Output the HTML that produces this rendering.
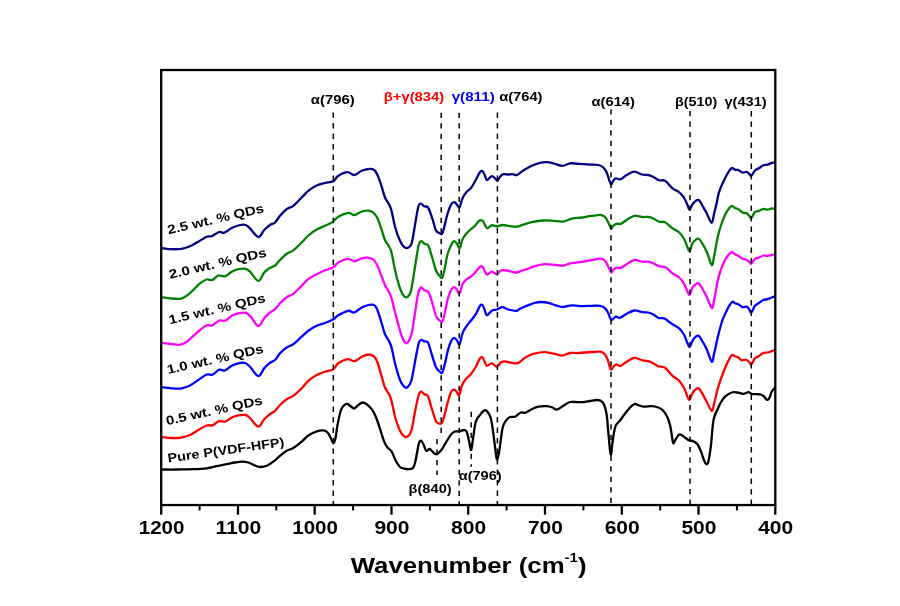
<!DOCTYPE html>
<html lang="en"><head><meta charset="utf-8"><title>FTIR spectra</title>
<style>
html,body{margin:0;padding:0;background:#fff}
body{width:900px;height:606px;overflow:hidden}
svg{display:block}
text{font-family:"Liberation Sans",sans-serif;font-weight:bold}
.c{fill:none;stroke-width:2.3;stroke-linejoin:round;stroke-linecap:round}
.d{stroke:#000;stroke-width:1.5;stroke-dasharray:5.3 5.2;fill:none}
.ann{font-size:13.3px}
.lbl{font-size:12.7px}
.tk{font-size:17.8px}
</style></head><body>
<svg width="900" height="606" viewBox="0 0 900 606">
<rect width="900" height="606" fill="#fff"/>
<path class="c" stroke="#000000" d="M161.7 469.5C164.2 469.5 171.4 469.6 176.7 469.5C182.0 469.4 188.3 469.4 193.3 469.2C198.3 469.0 202.8 468.8 206.7 468.3C210.6 467.8 213.4 466.9 216.7 466.2C220.0 465.5 223.6 464.8 226.7 464.2C229.8 463.6 232.5 462.9 235.0 462.5C237.5 462.1 239.5 461.7 241.7 461.7C243.9 461.7 246.1 461.9 248.3 462.5C250.5 463.1 253.1 464.8 255.0 465.5C256.9 466.2 258.1 466.9 260.0 467.0C261.9 467.1 264.5 466.7 266.7 465.8C268.9 464.9 271.1 463.4 273.3 461.7C275.5 460.0 277.8 457.6 280.0 455.8C282.2 454.0 284.5 452.1 286.7 450.8C288.9 449.5 290.8 449.5 293.3 448.0C295.8 446.5 299.2 443.8 301.7 441.7C304.2 439.6 305.8 437.2 308.3 435.5C310.8 433.8 314.2 432.2 316.7 431.3C319.2 430.4 321.5 430.2 323.3 430.4C325.1 430.6 326.2 431.2 327.5 432.5C328.8 433.8 329.8 436.2 330.8 438.0C331.8 439.8 332.5 443.2 333.3 443.3C334.1 443.4 334.8 441.4 335.5 438.3C336.2 435.2 336.6 429.6 337.5 425.0C338.4 420.4 339.7 413.8 340.8 410.5C341.9 407.2 343.1 406.3 344.2 405.2C345.3 404.1 346.4 403.8 347.5 404.0C348.6 404.2 349.7 405.6 350.8 406.3C351.9 407.1 352.9 408.7 354.2 408.5C355.4 408.3 356.9 406.0 358.3 405.0C359.7 404.0 361.1 402.6 362.5 402.5C363.9 402.4 365.2 403.1 366.7 404.2C368.2 405.3 370.2 407.1 371.7 409.2C373.2 411.3 374.4 413.4 375.8 416.7C377.2 420.0 378.6 424.6 380.0 428.8C381.4 433.0 382.9 438.6 384.2 441.7C385.4 444.8 386.2 445.8 387.5 447.5C388.8 449.2 390.3 449.5 391.7 451.7C393.1 453.9 394.4 458.2 395.8 460.8C397.2 463.4 398.6 465.7 400.0 467.0C401.4 468.3 402.7 468.3 404.2 468.7C405.7 469.1 407.7 469.3 409.2 469.2C410.7 469.1 412.0 469.2 413.0 468.0C414.0 466.8 414.6 464.7 415.3 461.7C416.1 458.7 416.9 453.2 417.5 450.0C418.1 446.8 418.6 444.0 419.2 442.5C419.8 441.0 420.6 440.4 421.3 440.8C422.1 441.2 422.9 443.3 423.7 445.0C424.5 446.7 425.3 450.2 426.3 450.8C427.3 451.4 428.7 448.7 429.7 448.8C430.7 448.9 431.3 450.8 432.5 451.7C433.7 452.6 435.2 454.6 436.7 454.2C438.2 453.8 440.3 451.2 441.7 449.5C443.1 447.8 443.6 446.5 445.0 444.2C446.4 441.9 448.5 437.9 450.0 435.8C451.5 433.7 452.7 432.4 454.2 431.7C455.7 430.9 457.5 431.6 459.2 431.3C460.9 431.0 462.9 429.9 464.2 430.0C465.4 430.1 465.9 429.8 466.7 431.7C467.5 433.6 468.4 438.6 469.2 441.7C469.9 444.8 470.5 450.8 471.2 450.0C471.9 449.2 472.5 441.4 473.3 436.7C474.1 432.0 474.7 425.3 475.8 421.7C476.9 418.1 478.6 416.9 480.0 415.0C481.4 413.1 482.9 411.1 484.2 410.5C485.4 409.9 486.4 410.4 487.5 411.7C488.6 413.0 489.8 414.7 490.8 418.3C491.8 421.9 492.5 427.5 493.3 433.3C494.1 439.1 495.2 449.0 495.8 453.3C496.4 457.6 496.6 459.5 497.2 459.2C497.8 458.9 498.3 456.8 499.2 451.7C500.1 446.6 501.4 433.4 502.5 428.3C503.6 423.2 504.6 422.7 505.8 420.8C507.1 418.9 508.5 417.7 510.0 417.0C511.5 416.3 513.2 417.4 515.0 416.7C516.8 415.9 519.1 413.1 520.8 412.5C522.5 411.9 523.2 413.4 525.0 412.8C526.8 412.2 529.5 410.2 531.7 409.2C533.9 408.2 535.8 407.2 538.3 406.7C540.8 406.2 544.3 406.1 546.7 406.2C549.1 406.3 550.8 406.9 552.5 407.5C554.2 408.1 554.9 410.0 556.7 409.7C558.5 409.4 561.1 407.1 563.3 405.8C565.5 404.5 567.5 402.6 570.0 402.0C572.5 401.4 575.8 402.2 578.3 402.2C580.8 402.2 583.0 402.2 585.0 402.0C587.0 401.8 588.0 401.3 590.0 401.0C592.0 400.7 594.9 400.0 596.7 400.0C598.5 400.0 599.5 400.0 600.8 400.8C602.0 401.6 603.2 402.6 604.2 405.0C605.2 407.4 606.0 409.7 606.7 415.0C607.5 420.3 608.0 430.0 608.7 436.7C609.4 443.4 610.1 454.4 610.8 455.0C611.5 455.6 612.0 444.7 612.8 440.0C613.5 435.3 614.5 429.5 615.3 426.7C616.1 423.9 616.6 424.5 617.5 423.3C618.4 422.1 619.4 421.3 620.8 419.5C622.2 417.7 624.0 414.8 625.8 412.5C627.6 410.2 630.2 407.2 631.7 405.8C633.2 404.4 633.8 403.9 635.0 403.8C636.2 403.8 637.7 405.0 639.2 405.5C640.7 406.0 642.1 406.6 644.2 406.7C646.3 406.8 649.4 406.1 651.7 406.2C654.1 406.3 656.5 406.9 658.3 407.5C660.1 408.1 661.1 408.6 662.5 410.0C663.9 411.4 665.5 413.3 666.7 415.8C668.0 418.3 669.1 421.5 670.0 425.0C670.9 428.5 671.5 433.6 672.0 436.7C672.5 439.8 672.7 442.9 673.3 443.3C673.9 443.7 674.8 440.7 675.8 439.2C676.8 437.7 678.0 435.0 679.2 434.5C680.5 434.0 681.8 435.3 683.3 436.2C684.8 437.1 686.6 439.1 688.3 440.0C690.0 440.9 691.8 440.6 693.3 441.3C694.8 442.0 696.2 442.6 697.5 444.2C698.8 445.8 699.7 448.0 700.8 450.8C701.9 453.6 703.3 458.6 704.2 460.8C705.1 463.0 705.5 464.1 706.2 464.2C706.9 464.3 707.5 464.6 708.3 461.7C709.1 458.8 710.0 453.1 710.8 446.7C711.6 440.3 712.3 428.6 713.0 423.3C713.7 418.0 714.2 417.3 715.0 415.0C715.8 412.7 716.7 411.3 717.5 409.5C718.3 407.7 718.8 406.1 720.0 404.0C721.2 401.9 723.0 398.6 725.0 396.7C727.0 394.8 729.6 393.2 731.7 392.5C733.8 391.8 735.6 392.3 737.5 392.5C739.4 392.7 741.5 393.9 743.3 393.8C745.1 393.8 746.9 392.2 748.3 392.2C749.7 392.2 750.3 393.5 751.7 393.8C753.1 394.1 755.2 394.1 756.7 394.2C758.2 394.3 759.5 394.1 760.8 394.5C762.0 394.9 763.2 395.8 764.2 396.7C765.2 397.6 765.9 399.4 766.7 399.7C767.5 400.0 768.4 399.6 769.2 398.3C770.0 397.0 770.8 393.4 771.7 391.7C772.6 390.0 774.2 388.6 774.7 388.0"/>
<path class="c" stroke="#ff0000" d="M161.7 437.2C163.4 437.3 168.4 437.9 171.7 438.0C175.0 438.1 178.6 438.0 181.7 437.5C184.8 437.0 187.2 436.2 190.0 435.0C192.8 433.8 195.5 431.6 198.3 430.0C201.1 428.4 204.3 426.3 206.7 425.5C209.1 424.7 210.4 426.0 212.5 425.3C214.6 424.6 217.1 421.8 219.2 421.2C221.3 420.6 222.9 422.3 225.0 421.7C227.1 421.1 229.5 418.6 231.7 417.5C233.9 416.4 236.0 415.7 238.3 415.3C240.7 414.9 243.9 414.6 245.8 415.0C247.8 415.4 247.9 416.1 250.0 418.0C252.1 419.9 255.9 426.5 258.3 426.7C260.7 426.9 262.2 421.3 264.2 419.2C266.1 417.1 268.2 415.6 270.0 414.2C271.8 412.8 273.3 412.3 275.0 410.8C276.7 409.3 278.1 406.9 280.0 405.0C281.9 403.1 284.5 400.7 286.7 399.2C288.9 397.7 290.8 397.6 293.3 395.8C295.8 394.0 299.2 390.8 301.7 388.3C304.2 385.8 305.8 383.0 308.3 380.8C310.8 378.6 313.9 376.5 316.7 375.0C319.5 373.5 322.2 372.7 325.0 371.7C327.8 370.7 331.1 370.6 333.3 369.2C335.5 367.8 335.9 365.0 338.3 363.3C340.7 361.6 344.8 359.6 347.5 359.2C350.2 358.8 352.3 361.6 354.7 361.2C357.1 360.8 359.3 357.8 361.7 356.7C364.1 355.6 367.1 354.5 369.2 354.5C371.3 354.5 372.8 355.4 374.2 356.7C375.6 358.0 376.2 359.2 377.5 362.5C378.8 365.8 380.4 372.5 381.7 376.7C382.9 380.9 383.5 383.9 385.0 387.5C386.5 391.1 389.1 393.4 390.8 398.3C392.5 403.2 393.5 411.3 395.0 416.7C396.5 422.1 398.5 427.5 400.0 430.8C401.5 434.1 402.9 435.3 404.2 436.3C405.4 437.3 406.3 437.6 407.5 436.7C408.7 435.8 410.1 435.0 411.3 430.8C412.6 426.6 413.8 417.7 415.0 411.7C416.2 405.7 417.7 398.3 418.7 395.0C419.7 391.7 420.3 391.8 421.2 391.7C422.1 391.6 423.1 393.4 424.2 394.2C425.3 394.9 426.8 393.8 428.0 396.2C429.2 398.6 430.4 404.2 431.7 408.3C433.0 412.4 434.7 418.3 435.8 420.8C436.9 423.3 437.3 423.0 438.3 423.3C439.3 423.6 440.9 424.5 442.0 422.8C443.1 421.1 444.1 416.6 445.0 413.3C445.9 410.1 446.5 406.8 447.5 403.3C448.5 399.8 449.8 394.8 450.8 392.5C451.8 390.2 452.7 389.8 453.7 389.7C454.7 389.6 455.8 390.8 456.7 391.7C457.6 392.6 458.2 396.2 459.2 395.0C460.2 393.8 461.2 387.0 462.5 384.2C463.8 381.4 465.3 380.0 466.7 378.3C468.1 376.6 469.3 376.1 470.8 374.2C472.3 372.3 474.3 369.3 475.8 366.7C477.3 364.1 478.9 359.8 480.0 358.3C481.1 356.8 481.7 356.9 482.5 357.5C483.3 358.1 483.9 360.3 484.7 361.7C485.4 363.1 485.8 365.5 487.0 365.8C488.2 366.1 490.1 363.2 491.7 363.3C493.3 363.4 495.2 366.8 496.7 366.7C498.2 366.6 499.6 363.4 500.8 362.5C502.1 361.6 502.7 361.3 504.2 361.3C505.7 361.3 507.9 362.2 510.0 362.5C512.1 362.8 515.0 363.4 516.7 363.3C518.4 363.2 518.3 362.8 520.0 361.7C521.7 360.6 524.3 358.0 526.7 356.7C529.1 355.4 531.2 354.4 534.2 353.7C537.2 352.9 541.4 352.1 545.0 352.2C548.6 352.3 552.9 353.6 555.8 354.2C558.7 354.8 560.1 355.7 562.5 355.5C564.9 355.3 567.4 353.4 570.0 353.0C572.6 352.6 574.7 353.2 578.3 353.0C581.9 352.8 588.1 352.2 591.7 352.0C595.3 351.8 597.9 351.4 600.0 351.7C602.1 352.0 603.0 352.4 604.2 353.7C605.5 354.9 606.6 357.0 607.5 359.2C608.4 361.4 609.1 364.9 609.7 366.7C610.3 368.4 610.6 369.7 611.2 369.7C611.8 369.7 612.4 367.6 613.3 366.7C614.1 365.8 615.0 364.6 616.3 364.5C617.5 364.4 619.1 366.3 620.8 365.8C622.5 365.3 624.5 363.0 626.7 361.7C628.9 360.4 631.6 358.0 634.2 357.8C636.8 357.6 640.1 359.7 642.5 360.3C644.9 360.9 646.5 360.7 648.3 361.2C650.1 361.7 651.6 362.4 653.3 363.3C655.0 364.2 656.3 365.6 658.3 366.3C660.2 367.1 662.6 366.2 665.0 367.8C667.4 369.4 670.1 373.6 672.5 375.8C674.9 378.0 677.2 378.7 679.2 380.8C681.2 382.9 682.8 385.7 684.2 388.3C685.6 390.9 686.6 394.8 687.5 396.7C688.4 398.6 688.9 400.3 689.7 399.7C690.5 399.1 691.5 395.1 692.5 393.3C693.5 391.6 694.8 390.0 695.8 389.2C696.8 388.4 697.7 387.8 698.7 388.3C699.7 388.9 700.4 390.3 701.7 392.5C703.0 394.7 705.0 398.6 706.7 401.7C708.4 404.8 710.5 410.5 711.7 410.8C713.0 411.1 713.1 407.3 714.2 403.3C715.3 399.3 716.6 392.2 718.3 386.7C720.0 381.1 722.4 374.6 724.2 370.0C726.0 365.4 727.9 361.7 729.2 359.2C730.5 356.7 731.0 355.5 732.0 355.0C733.0 354.5 734.0 355.9 735.0 356.3C736.0 356.7 737.2 356.8 738.3 357.5C739.4 358.2 740.5 359.9 741.7 360.3C743.0 360.7 744.5 359.4 745.8 359.7C747.0 360.0 748.3 361.2 749.2 362.0C750.1 362.8 750.3 364.8 751.3 364.2C752.3 363.6 753.7 359.7 755.0 358.3C756.3 356.9 757.8 356.7 759.2 355.8C760.6 354.9 761.9 353.6 763.3 353.0C764.7 352.4 766.1 352.8 767.5 352.5C768.9 352.2 770.5 351.6 771.7 351.2C772.9 350.8 774.2 350.4 774.7 350.3"/>
<path class="c" stroke="#0000ff" d="M161.7 387.2C163.4 387.4 168.4 388.1 171.7 388.3C175.0 388.5 178.6 388.8 181.7 388.3C184.8 387.8 187.2 386.9 190.0 385.5C192.8 384.1 195.5 381.8 198.3 380.0C201.1 378.2 204.3 375.4 206.7 374.5C209.1 373.6 210.4 375.5 212.5 374.7C214.6 373.9 217.1 370.4 219.2 369.7C221.3 369.0 222.9 371.1 225.0 370.5C227.1 369.9 229.5 367.0 231.7 365.8C233.9 364.6 236.1 363.8 238.3 363.3C240.5 362.8 243.1 362.4 245.0 363.0C246.9 363.6 247.8 364.5 250.0 366.7C252.2 368.9 255.9 375.9 258.3 376.2C260.7 376.5 262.4 370.4 264.2 368.3C266.0 366.2 267.4 364.7 269.2 363.3C271.0 361.9 273.2 361.7 275.0 360.0C276.8 358.3 278.1 355.4 280.0 353.3C281.9 351.2 284.5 349.0 286.7 347.5C288.9 346.0 290.8 346.0 293.3 344.2C295.8 342.4 299.2 338.9 301.7 336.7C304.2 334.5 305.8 332.6 308.3 330.8C310.8 329.0 313.9 327.1 316.7 325.8C319.5 324.5 322.2 324.1 325.0 323.0C327.8 321.9 331.1 320.5 333.3 319.2C335.5 317.9 335.8 316.7 338.3 315.3C340.8 313.9 345.7 311.3 348.3 310.8C350.9 310.3 352.0 313.1 354.2 312.5C356.4 311.9 359.3 308.8 361.7 307.5C364.1 306.2 366.5 305.5 368.3 305.0C370.1 304.5 371.2 304.4 372.5 304.7C373.8 305.0 374.8 305.4 375.8 306.7C376.8 308.0 377.3 309.7 378.3 312.5C379.3 315.3 380.6 319.7 381.7 323.3C382.8 326.9 383.5 330.6 385.0 334.2C386.5 337.8 389.1 340.1 390.8 345.0C392.5 349.9 393.5 357.5 395.0 363.3C396.5 369.1 398.5 376.1 400.0 380.0C401.5 383.9 402.9 385.5 404.2 386.7C405.4 387.9 406.3 388.2 407.5 387.2C408.7 386.2 410.1 385.1 411.3 380.8C412.6 376.6 413.8 367.9 415.0 361.7C416.2 355.4 417.7 346.9 418.7 343.3C419.7 339.7 420.3 340.3 421.2 340.0C422.1 339.7 423.1 340.9 424.2 341.3C425.3 341.7 426.8 340.4 428.0 342.5C429.2 344.6 430.4 350.2 431.7 354.2C433.0 358.2 434.6 363.9 435.8 366.7C437.1 369.5 438.1 370.0 439.2 371.0C440.3 372.0 441.2 373.9 442.2 372.6C443.2 371.3 444.0 367.1 445.0 363.3C446.0 359.5 447.0 353.6 448.0 350.0C449.0 346.4 449.9 343.7 450.8 341.7C451.8 339.7 452.7 338.3 453.7 338.0C454.7 337.7 455.7 339.0 456.7 340.0C457.7 341.0 458.5 345.3 459.5 344.2C460.5 343.1 461.3 336.4 462.5 333.3C463.7 330.2 465.3 327.9 466.7 325.8C468.1 323.7 469.3 322.7 470.8 320.8C472.3 318.9 474.3 316.7 475.8 314.2C477.3 311.7 478.9 307.3 480.0 305.8C481.1 304.3 481.7 304.3 482.5 305.0C483.3 305.7 483.9 308.3 484.7 310.0C485.4 311.7 485.8 315.2 487.0 315.3C488.2 315.4 490.1 311.8 491.7 310.8C493.3 309.8 494.9 310.1 496.7 309.5C498.5 308.9 500.6 307.2 502.5 307.2C504.4 307.2 505.9 308.9 508.3 309.5C510.7 310.1 514.8 310.9 516.7 310.8C518.7 310.7 518.3 309.5 520.0 308.7C521.7 307.9 524.3 306.8 526.7 305.8C529.1 304.9 531.9 303.6 534.2 303.0C536.6 302.4 538.4 302.0 540.8 302.0C543.1 302.0 545.8 302.2 548.3 302.8C550.8 303.4 553.4 304.6 555.8 305.3C558.2 306.0 559.9 307.0 562.5 307.0C565.1 307.0 568.8 305.4 571.7 305.3C574.6 305.2 576.7 306.1 580.0 306.2C583.3 306.3 588.4 305.9 591.7 305.8C595.0 305.7 597.9 305.5 600.0 305.8C602.1 306.1 603.0 306.5 604.2 307.5C605.5 308.5 606.5 310.0 607.5 311.7C608.5 313.4 609.3 316.1 610.0 317.5C610.7 318.9 610.7 320.1 611.7 320.0C612.7 319.9 614.4 317.1 615.8 316.7C617.2 316.3 618.2 318.3 620.0 317.8C621.8 317.3 624.3 315.0 626.7 313.8C629.1 312.6 631.6 310.8 634.2 310.5C636.8 310.2 640.1 311.9 642.5 312.2C644.9 312.5 646.5 312.1 648.3 312.5C650.1 312.9 651.6 313.6 653.3 314.5C655.0 315.4 656.5 317.2 658.3 317.8C660.1 318.4 662.6 317.8 664.2 318.3C665.8 318.8 666.6 320.0 668.0 321.0C669.4 322.0 670.6 323.0 672.5 324.2C674.4 325.4 677.2 326.5 679.2 328.3C681.2 330.1 682.8 332.5 684.2 335.0C685.6 337.5 686.6 341.4 687.5 343.3C688.4 345.2 688.9 347.1 689.7 346.7C690.5 346.3 691.5 342.5 692.5 340.8C693.5 339.1 694.8 337.5 695.8 336.7C696.8 335.9 697.7 335.2 698.7 335.8C699.7 336.4 700.4 337.8 701.7 340.0C703.0 342.2 705.0 345.6 706.7 349.2C708.4 352.8 710.5 361.0 711.7 361.7C713.0 362.4 713.1 357.8 714.2 353.3C715.3 348.9 716.9 340.6 718.3 335.0C719.7 329.4 721.2 323.8 722.5 320.0C723.8 316.2 724.7 314.9 725.8 312.5C726.9 310.1 728.1 307.6 729.2 305.8C730.3 304.0 731.5 302.1 732.5 301.7C733.5 301.3 734.0 302.9 735.0 303.3C736.0 303.7 737.0 303.6 738.3 304.2C739.5 304.8 741.1 306.8 742.5 307.2C743.9 307.6 745.6 306.4 746.7 306.7C747.8 307.0 748.4 308.2 749.2 309.2C750.0 310.2 750.3 313.1 751.3 312.5C752.3 311.9 753.7 307.4 755.0 305.8C756.3 304.2 757.8 303.8 759.2 302.8C760.6 301.8 761.9 300.6 763.3 300.0C764.7 299.4 766.1 299.6 767.5 299.2C768.9 298.8 770.5 297.9 771.7 297.5C772.9 297.1 774.2 296.8 774.7 296.7"/>
<path class="c" stroke="#ff00ff" d="M161.7 342.8C163.1 343.0 166.9 343.5 170.0 343.8C173.1 344.1 177.2 345.1 180.0 344.7C182.8 344.3 184.5 343.2 186.7 341.7C188.9 340.2 191.1 337.8 193.3 335.8C195.5 333.9 197.8 331.8 200.0 330.0C202.2 328.2 204.6 326.0 206.7 325.2C208.8 324.4 210.4 326.2 212.5 325.4C214.6 324.6 217.1 321.3 219.2 320.5C221.3 319.7 222.9 321.6 225.0 320.8C227.1 320.0 229.5 317.1 231.7 315.8C233.9 314.6 236.0 313.8 238.3 313.3C240.7 312.8 243.7 312.2 245.8 312.8C247.9 313.4 248.7 314.5 250.8 316.7C252.9 318.9 256.1 325.9 258.3 326.2C260.5 326.5 262.2 320.6 264.2 318.3C266.1 316.0 268.2 314.0 270.0 312.5C271.8 311.0 273.3 310.7 275.0 309.2C276.7 307.7 278.1 305.3 280.0 303.3C281.9 301.3 284.5 298.8 286.7 297.2C288.9 295.6 290.8 295.7 293.3 293.8C295.8 291.9 299.2 288.2 301.7 285.8C304.2 283.4 305.8 281.1 308.3 279.2C310.8 277.3 313.9 275.7 316.7 274.2C319.5 272.7 322.2 271.5 325.0 270.3C327.8 269.1 331.1 268.5 333.3 267.2C335.5 265.9 335.8 263.9 338.3 262.5C340.8 261.1 345.6 259.0 348.3 258.8C351.0 258.6 352.5 261.4 354.7 261.3C356.9 261.2 359.4 258.9 361.7 258.3C364.0 257.7 366.4 257.6 368.3 257.8C370.2 258.0 371.8 258.2 373.3 259.5C374.8 260.8 376.1 262.9 377.5 265.8C378.9 268.7 380.4 273.5 381.7 276.7C382.9 279.9 383.5 281.8 385.0 285.0C386.5 288.2 389.1 291.3 390.8 295.8C392.5 300.3 393.3 305.8 395.0 312.0C396.7 318.2 399.1 328.2 400.8 333.3C402.5 338.4 403.8 341.1 405.0 342.5C406.2 343.9 407.2 343.2 408.3 341.7C409.4 340.2 410.6 338.0 411.7 333.3C412.8 328.6 413.9 319.8 415.0 313.3C416.1 306.8 417.0 298.5 418.0 294.2C419.0 289.9 419.8 288.2 420.8 287.5C421.8 286.8 422.9 289.2 424.2 290.0C425.4 290.8 427.1 290.2 428.3 292.0C429.6 293.8 430.4 296.9 431.7 300.8C432.9 304.7 434.6 312.2 435.8 315.4C437.1 318.6 438.1 319.0 439.2 320.0C440.3 321.0 441.5 322.7 442.5 321.3C443.5 319.9 444.1 315.5 445.0 311.7C445.9 307.9 447.0 301.8 448.0 298.3C449.0 294.8 449.9 292.7 450.8 290.8C451.8 288.9 452.7 287.5 453.7 287.2C454.7 286.9 455.7 288.2 456.7 289.2C457.7 290.2 458.5 294.1 459.5 293.3C460.5 292.5 461.3 286.6 462.5 284.2C463.7 281.8 465.3 280.4 466.7 279.2C468.1 277.9 469.3 277.9 470.8 276.7C472.3 275.4 474.3 273.4 475.8 271.7C477.3 270.0 478.9 267.5 480.0 266.7C481.1 265.9 481.7 266.0 482.5 266.7C483.3 267.4 483.9 269.5 484.7 270.8C485.4 272.1 485.8 274.6 487.0 274.7C488.2 274.8 490.1 271.8 491.7 271.7C493.3 271.6 495.2 274.4 496.7 274.2C498.2 274.0 499.1 271.1 500.8 270.5C502.5 269.9 504.9 270.3 506.7 270.5C508.5 270.7 510.0 271.4 511.7 271.7C513.4 272.0 515.2 272.6 516.7 272.5C518.2 272.4 519.3 271.6 521.0 271.0C522.7 270.4 524.5 270.0 526.7 269.2C528.9 268.4 531.2 267.1 534.2 266.3C537.2 265.5 541.4 264.4 545.0 264.2C548.6 264.0 552.8 264.8 555.8 265.0C558.8 265.2 560.9 265.8 563.3 265.5C565.7 265.2 567.2 263.9 570.0 263.3C572.8 262.8 576.4 262.8 580.0 262.2C583.6 261.6 588.2 260.6 591.7 260.0C595.2 259.4 598.6 258.6 600.8 258.7C603.0 258.8 603.8 259.5 605.0 260.8C606.2 262.1 607.3 264.8 608.3 266.7C609.3 268.6 610.4 272.0 611.2 272.5C612.0 273.0 612.4 270.5 613.3 269.7C614.1 268.9 615.0 268.1 616.3 267.8C617.5 267.5 619.1 268.4 620.8 267.8C622.5 267.2 624.5 265.5 626.7 264.2C628.9 262.9 631.6 260.4 634.2 260.0C636.8 259.6 640.1 261.4 642.5 261.7C644.9 262.0 646.5 261.4 648.3 261.7C650.1 262.0 651.5 262.6 653.3 263.3C655.1 264.1 657.1 265.5 659.2 266.2C661.3 266.9 663.6 266.3 665.8 267.5C668.0 268.7 670.3 271.6 672.5 273.3C674.7 275.0 677.2 275.7 679.2 277.5C681.2 279.3 682.8 281.8 684.2 284.2C685.6 286.6 686.6 289.9 687.5 291.7C688.4 293.4 688.9 295.4 689.7 294.7C690.5 294.0 691.5 289.2 692.5 287.5C693.5 285.8 694.8 284.9 695.8 284.2C696.8 283.5 697.7 282.8 698.7 283.3C699.7 283.9 700.4 285.3 701.7 287.5C703.0 289.7 705.0 293.3 706.7 296.7C708.4 300.1 710.5 307.4 711.7 308.0C713.0 308.6 713.2 304.4 714.2 300.0C715.2 295.6 716.4 286.7 717.5 281.7C718.6 276.7 719.5 273.6 720.8 270.0C722.0 266.4 723.6 262.6 725.0 260.0C726.4 257.4 728.0 255.5 729.2 254.2C730.4 252.9 731.0 252.0 732.0 252.0C733.0 252.0 734.0 253.6 735.0 254.2C736.0 254.8 737.0 255.1 738.3 255.8C739.5 256.6 741.1 258.0 742.5 258.7C743.9 259.4 745.6 259.5 746.7 260.0C747.8 260.5 748.4 261.1 749.2 261.7C750.0 262.3 750.3 264.2 751.3 263.7C752.3 263.2 753.7 259.8 755.0 258.8C756.3 257.8 757.8 258.1 759.2 257.5C760.6 256.9 761.9 255.8 763.3 255.5C764.7 255.2 766.1 255.9 767.5 255.8C768.9 255.7 770.5 255.2 771.7 255.0C772.9 254.8 774.2 254.8 774.7 254.7"/>
<path class="c" stroke="#008000" d="M161.7 297.2C163.1 297.4 166.9 298.0 170.0 298.3C173.1 298.6 177.2 299.2 180.0 298.8C182.8 298.4 184.5 297.3 186.7 295.8C188.9 294.3 191.1 292.1 193.3 290.0C195.5 287.9 197.8 285.1 200.0 283.3C202.2 281.6 204.6 280.1 206.7 279.5C208.8 278.9 210.6 280.7 212.5 280.0C214.4 279.3 216.2 276.1 218.3 275.5C220.4 274.9 222.8 276.9 225.0 276.3C227.2 275.7 229.5 272.9 231.7 271.7C233.9 270.5 236.1 269.7 238.3 269.2C240.5 268.7 243.1 268.3 245.0 268.7C246.9 269.1 247.8 269.7 250.0 271.7C252.2 273.7 255.9 280.7 258.3 280.8C260.7 280.9 262.4 274.6 264.2 272.5C266.0 270.4 267.4 269.5 269.2 268.3C271.0 267.1 273.2 266.9 275.0 265.5C276.8 264.1 278.1 261.9 280.0 260.0C281.9 258.1 284.5 255.4 286.7 253.8C288.9 252.2 290.8 252.2 293.3 250.3C295.8 248.4 299.2 245.0 301.7 242.5C304.2 240.0 305.8 237.7 308.3 235.5C310.8 233.3 313.9 231.1 316.7 229.5C319.5 227.9 322.4 226.9 325.0 225.7C327.6 224.5 330.3 223.6 332.5 222.1C334.7 220.6 335.7 218.2 338.3 216.7C340.9 215.1 345.7 213.1 348.3 212.8C350.9 212.5 352.0 215.2 354.2 215.0C356.4 214.8 359.3 212.2 361.7 211.5C364.1 210.8 366.4 210.5 368.3 210.7C370.2 210.9 371.8 211.4 373.3 212.7C374.8 214.0 376.1 215.4 377.5 218.3C378.9 221.2 380.4 226.4 381.7 230.0C382.9 233.6 383.5 236.7 385.0 240.0C386.5 243.3 389.1 245.0 390.8 250.0C392.5 255.0 393.5 263.6 395.0 270.0C396.5 276.4 398.5 283.9 400.0 288.3C401.5 292.7 402.9 294.9 404.2 296.3C405.4 297.7 406.4 297.7 407.5 296.9C408.6 296.1 409.7 295.6 410.8 291.5C411.9 287.4 413.2 278.2 414.2 272.0C415.2 265.8 416.2 258.8 417.0 254.0C417.8 249.2 418.5 245.6 419.2 243.5C419.9 241.4 420.4 241.1 421.3 241.2C422.2 241.2 423.4 243.1 424.5 243.8C425.6 244.5 427.0 243.4 428.2 245.4C429.4 247.4 430.4 251.7 431.7 255.8C433.0 259.9 434.6 266.7 435.8 270.0C437.1 273.3 438.1 274.2 439.2 275.5C440.3 276.8 441.3 278.9 442.3 277.5C443.3 276.1 444.1 270.9 445.0 267.0C445.9 263.1 446.5 257.7 447.5 254.2C448.5 250.7 449.8 248.0 450.8 245.8C451.8 243.7 452.7 241.7 453.7 241.3C454.7 240.9 455.7 242.2 456.7 243.3C457.7 244.4 458.7 248.7 459.7 248.0C460.7 247.3 461.3 241.6 462.5 239.2C463.7 236.8 465.4 234.8 466.7 233.3C467.9 231.8 468.6 231.2 470.0 230.0C471.4 228.8 473.5 227.3 475.0 225.8C476.5 224.3 477.9 221.6 479.2 220.8C480.4 220.0 481.5 220.1 482.5 220.8C483.5 221.5 484.2 223.8 485.0 225.0C485.8 226.2 486.1 228.2 487.2 228.3C488.3 228.4 490.0 225.6 491.7 225.3C493.4 225.0 495.7 226.4 497.5 226.3C499.3 226.2 500.4 225.0 502.5 225.0C504.6 225.0 507.6 225.9 510.0 226.2C512.4 226.5 514.5 226.9 516.7 226.7C518.9 226.4 520.8 225.4 523.3 224.7C525.8 223.9 528.4 222.9 531.7 222.2C535.0 221.5 539.7 220.7 543.3 220.5C546.9 220.3 550.0 220.6 553.3 220.8C556.6 221.0 560.2 221.8 563.3 221.5C566.4 221.2 568.6 219.4 571.7 218.7C574.8 218.0 578.4 218.0 581.7 217.5C585.0 217.0 588.5 216.3 591.7 215.9C594.9 215.5 598.6 214.8 600.8 215.0C603.0 215.2 603.8 215.8 605.0 217.0C606.2 218.2 607.3 220.6 608.3 222.5C609.3 224.4 610.4 227.8 611.2 228.3C612.0 228.9 612.4 226.6 613.3 225.8C614.1 225.1 615.0 224.1 616.3 223.8C617.5 223.5 619.1 224.4 620.8 223.8C622.5 223.2 624.5 221.3 626.7 220.0C628.9 218.7 631.6 216.3 634.2 215.8C636.8 215.3 640.1 216.8 642.5 217.0C644.9 217.2 646.5 216.7 648.3 216.9C650.1 217.2 651.5 217.7 653.3 218.5C655.1 219.3 657.2 221.1 659.2 221.7C661.2 222.3 662.8 221.1 665.0 222.2C667.2 223.3 670.1 226.6 672.5 228.3C674.9 230.0 677.2 230.7 679.2 232.5C681.2 234.3 682.8 236.7 684.2 239.2C685.6 241.7 686.6 245.6 687.5 247.5C688.4 249.4 688.9 251.5 689.7 250.8C690.5 250.1 691.5 245.2 692.5 243.3C693.5 241.5 694.8 240.5 695.8 239.7C696.8 238.9 697.7 238.2 698.7 238.7C699.7 239.2 700.4 240.3 701.7 242.5C703.0 244.7 705.0 247.9 706.7 251.7C708.4 255.4 710.5 264.3 711.7 265.0C713.0 265.7 713.2 260.3 714.2 255.8C715.2 251.3 716.4 243.0 717.5 238.0C718.6 233.0 719.5 229.8 720.8 226.0C722.0 222.2 723.6 217.9 725.0 215.0C726.4 212.1 728.0 209.8 729.2 208.3C730.4 206.8 731.0 205.9 732.0 205.8C733.0 205.8 734.0 207.4 735.0 208.0C736.0 208.6 737.0 208.4 738.3 209.2C739.5 209.9 741.1 211.8 742.5 212.5C743.9 213.2 745.6 212.8 746.7 213.3C747.8 213.9 748.4 215.0 749.2 215.8C750.0 216.6 750.3 218.6 751.3 218.0C752.3 217.4 753.7 213.2 755.0 212.0C756.3 210.8 757.8 211.3 759.2 210.8C760.6 210.3 761.9 209.0 763.3 208.8C764.7 208.6 766.1 209.8 767.5 209.7C768.9 209.6 770.5 208.4 771.7 208.3C772.9 208.2 774.2 209.0 774.7 209.2"/>
<path class="c" stroke="#000080" d="M161.7 248.0C163.4 248.2 168.4 249.1 171.7 249.2C175.0 249.3 178.6 249.3 181.7 248.8C184.8 248.3 187.2 247.5 190.0 246.3C192.8 245.1 195.5 243.3 198.3 241.7C201.1 240.1 204.5 237.6 206.7 236.7C208.9 235.8 209.6 237.0 211.7 236.2C213.8 235.4 217.1 232.6 219.2 232.0C221.3 231.4 222.1 233.4 224.2 232.7C226.3 232.0 229.1 229.3 231.7 228.0C234.3 226.7 237.7 225.5 240.0 225.0C242.3 224.5 244.1 224.4 245.8 225.0C247.5 225.6 247.9 226.3 250.0 228.3C252.1 230.3 255.9 236.7 258.3 237.0C260.7 237.3 262.2 232.0 264.2 230.0C266.1 228.0 268.2 226.2 270.0 225.0C271.8 223.8 273.3 224.0 275.0 222.5C276.7 221.0 278.1 218.0 280.0 215.8C281.9 213.6 284.5 210.9 286.7 209.2C288.9 207.5 290.8 207.8 293.3 205.8C295.8 203.9 299.2 200.0 301.7 197.5C304.2 195.0 305.8 192.8 308.3 190.8C310.8 188.8 313.9 186.8 316.7 185.5C319.5 184.2 322.2 183.7 325.0 183.0C327.8 182.3 331.1 182.5 333.3 181.3C335.5 180.1 335.9 177.3 338.3 175.8C340.7 174.3 344.9 172.3 347.5 172.2C350.1 172.1 351.8 175.2 354.2 175.0C356.6 174.8 359.1 171.8 361.7 170.8C364.3 169.8 367.9 168.9 370.0 168.8C372.1 168.7 372.9 169.0 374.2 170.0C375.4 171.0 376.2 172.2 377.5 175.0C378.8 177.8 380.4 182.9 381.7 186.7C382.9 190.4 383.5 193.9 385.0 197.5C386.5 201.1 389.1 203.4 390.8 208.3C392.5 213.2 393.5 221.3 395.0 226.7C396.5 232.1 398.5 237.4 400.0 240.8C401.5 244.2 402.8 246.1 404.2 247.2C405.6 248.3 407.1 248.2 408.3 247.5C409.6 246.8 410.6 247.1 411.7 243.3C412.8 239.6 413.9 231.1 415.0 225.0C416.1 218.9 417.3 210.2 418.3 206.7C419.3 203.1 419.8 203.8 420.8 203.7C421.8 203.6 423.0 205.7 424.2 206.3C425.4 206.9 426.8 205.8 428.0 207.5C429.2 209.2 430.4 212.9 431.7 216.7C433.0 220.4 434.7 227.4 435.8 230.0C436.9 232.6 437.3 231.9 438.3 232.5C439.3 233.1 441.1 234.6 442.0 233.8C442.9 233.1 443.2 230.8 444.0 228.0C444.8 225.2 445.6 220.5 446.7 216.7C447.8 212.9 449.6 207.4 450.8 205.0C452.1 202.6 453.2 202.3 454.2 202.2C455.2 202.1 455.8 203.3 456.7 204.2C457.6 205.1 458.5 208.5 459.5 207.5C460.5 206.5 461.3 200.9 462.5 198.3C463.7 195.7 465.3 193.4 466.7 191.7C468.1 190.0 469.3 190.2 470.8 188.3C472.3 186.4 474.3 182.7 475.8 180.0C477.3 177.3 478.9 173.5 480.0 172.0C481.1 170.5 481.7 170.7 482.5 171.2C483.3 171.7 483.9 173.5 484.7 175.0C485.4 176.5 485.8 179.8 487.0 180.0C488.2 180.2 490.4 176.5 491.7 176.2C493.0 175.9 494.0 177.5 495.0 178.3C496.0 179.1 496.7 181.1 497.5 180.8C498.3 180.5 499.0 177.8 500.0 176.7C501.0 175.6 501.9 174.6 503.3 174.2C504.7 173.8 506.8 174.5 508.3 174.5C509.8 174.5 511.1 174.1 512.5 174.2C514.0 174.3 515.2 175.6 517.0 175.0C518.8 174.4 520.8 172.0 523.3 170.5C525.8 169.0 528.9 167.1 531.7 165.8C534.5 164.5 537.5 163.4 540.0 162.8C542.5 162.2 544.5 162.1 546.7 162.2C548.9 162.3 550.7 162.7 553.3 163.3C555.9 163.9 559.7 165.8 562.5 165.8C565.3 165.8 567.4 163.6 570.0 163.3C572.6 163.0 575.0 163.6 578.3 163.8C581.6 164.0 586.7 164.4 590.0 164.6C593.3 164.8 596.1 164.5 598.3 165.0C600.5 165.5 601.9 166.2 603.3 167.5C604.7 168.8 605.7 170.4 606.7 172.5C607.7 174.6 608.5 178.0 609.2 180.0C610.0 182.0 610.5 184.4 611.2 184.5C611.9 184.6 612.5 181.8 613.3 180.8C614.1 179.8 614.5 178.6 615.8 178.3C617.0 178.0 619.0 179.8 620.8 179.2C622.6 178.6 624.5 176.2 626.7 175.0C628.9 173.8 631.7 171.8 634.2 171.7C636.7 171.6 639.4 173.9 641.7 174.5C644.1 175.1 646.4 174.6 648.3 175.0C650.2 175.4 651.5 176.1 653.3 177.0C655.1 177.9 657.2 179.7 659.2 180.3C661.2 180.9 662.8 179.5 665.0 180.8C667.2 182.1 670.3 186.5 672.5 188.3C674.7 190.1 676.5 190.3 678.3 191.7C680.1 193.1 681.8 194.5 683.3 196.7C684.8 198.9 686.5 202.8 687.5 205.0C688.5 207.2 688.7 209.8 689.5 209.7C690.3 209.6 691.3 205.8 692.5 204.2C693.7 202.6 695.6 201.0 696.7 200.3C697.8 199.7 698.2 199.4 699.2 200.3C700.2 201.2 701.2 203.6 702.5 205.8C703.8 208.0 705.2 210.5 706.7 213.3C708.2 216.1 710.5 222.9 711.7 222.8C713.0 222.8 713.4 216.1 714.2 213.0C715.0 209.9 715.7 207.6 716.5 204.0C717.3 200.4 717.8 196.0 719.2 191.7C720.6 187.4 723.3 181.8 725.0 178.3C726.7 174.8 728.0 172.5 729.2 170.8C730.4 169.1 731.0 168.2 732.0 168.0C733.0 167.8 734.0 169.4 735.0 169.7C736.0 170.0 737.0 169.5 738.3 170.0C739.5 170.5 741.1 172.2 742.5 172.5C743.9 172.8 745.6 171.8 746.7 172.0C747.8 172.2 748.4 173.2 749.2 173.8C750.0 174.4 750.3 176.4 751.3 175.8C752.3 175.2 753.7 171.8 755.0 170.5C756.3 169.2 757.8 168.9 759.2 168.0C760.6 167.1 761.9 165.9 763.3 165.3C764.7 164.8 766.1 165.1 767.5 164.7C768.9 164.3 770.5 163.2 771.7 162.8C772.9 162.4 774.2 162.6 774.7 162.5"/>
<line class="d" x1="333.3" y1="112.6" x2="333.3" y2="505.05"/>
<line class="d" x1="441.2" y1="112.8" x2="441.2" y2="437"/>
<line class="d" x1="459.2" y1="112.8" x2="459.2" y2="505.05"/>
<line class="d" x1="497.4" y1="112.6" x2="497.4" y2="505.05"/>
<line class="d" x1="611.0" y1="109.3" x2="611.0" y2="505.05"/>
<line class="d" x1="690.0" y1="110.9" x2="690.0" y2="505.05"/>
<line class="d" x1="751.3" y1="111.1" x2="751.3" y2="505.05"/>
<line class="d" x1="437.0" y1="439" x2="437.0" y2="475"/>
<line class="d" x1="471.2" y1="411.7" x2="471.2" y2="466.7"/>
<rect x="161.2" y="70" width="614.0999999999999" height="435.05" fill="none" stroke="#000" stroke-width="2.3"/>
<line x1="775.3" y1="505.05" x2="775.3" y2="514.7" stroke="#000" stroke-width="2.3"/>
<line x1="736.9" y1="505.05" x2="736.9" y2="510.5" stroke="#000" stroke-width="2"/>
<line x1="698.5" y1="505.05" x2="698.5" y2="514.7" stroke="#000" stroke-width="2.3"/>
<line x1="660.2" y1="505.05" x2="660.2" y2="510.5" stroke="#000" stroke-width="2"/>
<line x1="621.8" y1="505.05" x2="621.8" y2="514.7" stroke="#000" stroke-width="2.3"/>
<line x1="583.4" y1="505.05" x2="583.4" y2="510.5" stroke="#000" stroke-width="2"/>
<line x1="545.0" y1="505.05" x2="545.0" y2="514.7" stroke="#000" stroke-width="2.3"/>
<line x1="506.6" y1="505.05" x2="506.6" y2="510.5" stroke="#000" stroke-width="2"/>
<line x1="468.2" y1="505.05" x2="468.2" y2="514.7" stroke="#000" stroke-width="2.3"/>
<line x1="429.9" y1="505.05" x2="429.9" y2="510.5" stroke="#000" stroke-width="2"/>
<line x1="391.5" y1="505.05" x2="391.5" y2="514.7" stroke="#000" stroke-width="2.3"/>
<line x1="353.1" y1="505.05" x2="353.1" y2="510.5" stroke="#000" stroke-width="2"/>
<line x1="314.7" y1="505.05" x2="314.7" y2="514.7" stroke="#000" stroke-width="2.3"/>
<line x1="276.3" y1="505.05" x2="276.3" y2="510.5" stroke="#000" stroke-width="2"/>
<line x1="238.0" y1="505.05" x2="238.0" y2="514.7" stroke="#000" stroke-width="2.3"/>
<line x1="199.6" y1="505.05" x2="199.6" y2="510.5" stroke="#000" stroke-width="2"/>
<line x1="161.2" y1="505.05" x2="161.2" y2="514.7" stroke="#000" stroke-width="2.3"/>
<text class="tk" x="758.2" y="533.5" textLength="35.0" lengthAdjust="spacingAndGlyphs">400</text>
<text class="tk" x="681.4" y="533.5" textLength="35.0" lengthAdjust="spacingAndGlyphs">500</text>
<text class="tk" x="604.7" y="533.5" textLength="35.0" lengthAdjust="spacingAndGlyphs">600</text>
<text class="tk" x="527.9" y="533.5" textLength="35.0" lengthAdjust="spacingAndGlyphs">700</text>
<text class="tk" x="451.1" y="533.5" textLength="35.0" lengthAdjust="spacingAndGlyphs">800</text>
<text class="tk" x="374.4" y="533.5" textLength="35.0" lengthAdjust="spacingAndGlyphs">900</text>
<text class="tk" x="292.2" y="533.5" textLength="45.8" lengthAdjust="spacingAndGlyphs">1000</text>
<text class="tk" x="215.5" y="533.5" textLength="45.8" lengthAdjust="spacingAndGlyphs">1100</text>
<text class="tk" x="138.7" y="533.5" textLength="45.8" lengthAdjust="spacingAndGlyphs">1200</text>
<text x="350.7" y="572.7" font-size="21.8px" textLength="235.8" lengthAdjust="spacingAndGlyphs">Wavenumber (cm<tspan font-size="12.7px" dy="-10.5">-1</tspan><tspan dy="10.5">)</tspan></text>
<text class="ann" x="310.8" y="103.8" fill="#000" textLength="43.9" lengthAdjust="spacingAndGlyphs">α(796)</text>
<text class="ann" x="383.8" y="101.3" fill="#ff0000" textLength="60.4" lengthAdjust="spacingAndGlyphs">β+γ(834)</text>
<text class="ann" x="451.7" y="100.5" fill="#0000ff" textLength="43" lengthAdjust="spacingAndGlyphs">γ(811)</text>
<text class="ann" x="499.2" y="100.7" fill="#000" textLength="43.3" lengthAdjust="spacingAndGlyphs">α(764)</text>
<text class="ann" x="591.6" y="106.2" fill="#000" textLength="43.3" lengthAdjust="spacingAndGlyphs">α(614)</text>
<text class="ann" x="675.1" y="106.2" fill="#000" textLength="42.2" lengthAdjust="spacingAndGlyphs">β(510)</text>
<text class="ann" x="724.4" y="106.2" fill="#000" textLength="42.3" lengthAdjust="spacingAndGlyphs">γ(431)</text>
<text class="ann" x="408.5" y="492.7" fill="#000" textLength="43.2" lengthAdjust="spacingAndGlyphs">β(840)</text>
<text class="ann" x="458.7" y="480" fill="#000" textLength="42.9" lengthAdjust="spacingAndGlyphs">α(796)</text>
<text class="lbl" transform="translate(168.6 234.3) rotate(-13)" textLength="98.7" lengthAdjust="spacingAndGlyphs">2.5 wt. % QDs</text>
<text class="lbl" transform="translate(170 278.8) rotate(-13)" textLength="99.9" lengthAdjust="spacingAndGlyphs">2.0 wt. % QDs</text>
<text class="lbl" transform="translate(169.8 324.2) rotate(-13)" textLength="99" lengthAdjust="spacingAndGlyphs">1.5 wt. % QDs</text>
<text class="lbl" transform="translate(168 374) rotate(-12.5)" textLength="98.5" lengthAdjust="spacingAndGlyphs">1.0 wt. % QDs</text>
<text class="lbl" transform="translate(166.9 425.2) rotate(-12.3)" textLength="98.5" lengthAdjust="spacingAndGlyphs">0.5 wt. % QDs</text>
<text class="lbl" transform="translate(168.3 462.5) rotate(-8)" textLength="117.5" lengthAdjust="spacingAndGlyphs">Pure P(VDF-HFP)</text>
</svg>
</body></html>
